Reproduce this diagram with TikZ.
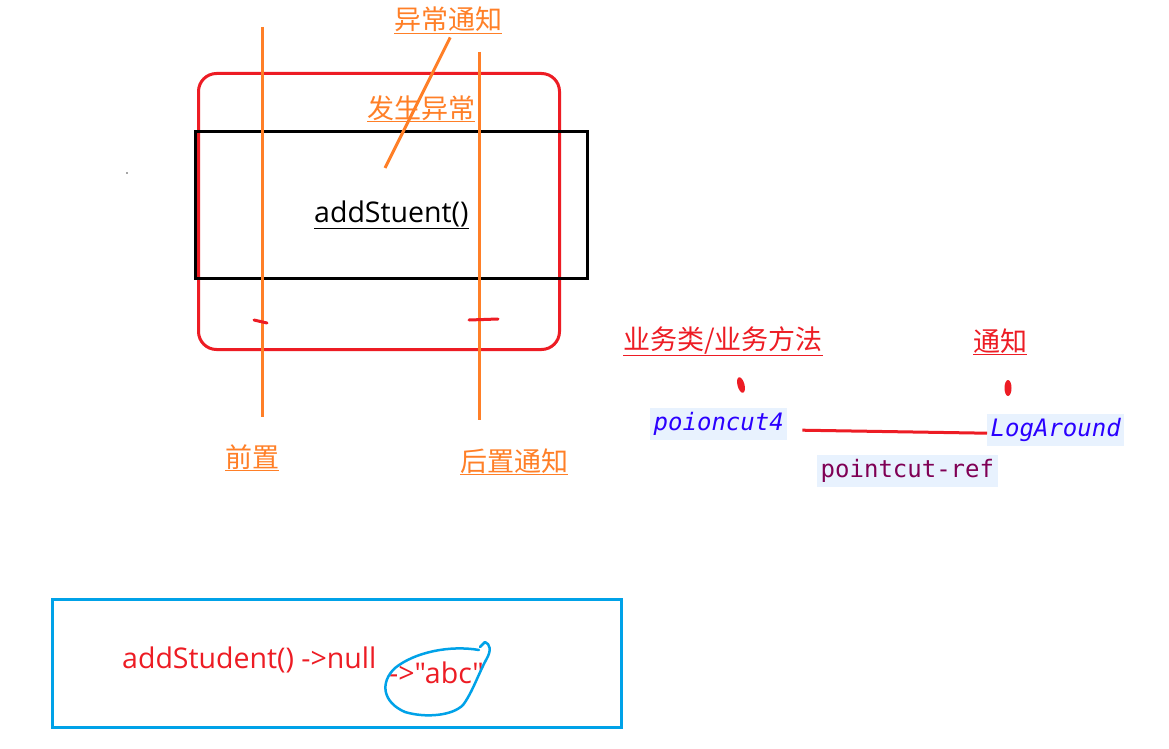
\documentclass[tikz,border=0pt]{standalone}
\usepackage{fontspec}
\newfontfamily\latinf{Open Sans}
\setmonofont{DejaVu Sans Mono}
\newfontfamily\cjk{Noto Sans CJK SC}
\definecolor{pOrange}{RGB}{255,127,39}
\definecolor{pRed}{RGB}{237,28,36}
\definecolor{pBlue}{RGB}{0,162,232}
\definecolor{codebg}{RGB}{232,242,254}
\definecolor{codeblue}{RGB}{42,0,255}
\definecolor{codepurple}{RGB}{127,0,85}
\begin{document}
\begin{tikzpicture}[x=1pt,y=-1pt,
  cnlabel/.style={font=\cjk\fontsize{27}{31}\selectfont, inner sep=0pt, anchor=base west},
  olabel/.style={cnlabel, text=pOrange},
  rlabel/.style={cnlabel, text=pRed},
  code/.style={fill=codebg, inner xsep=3.5pt, inner ysep=0pt, minimum height=32pt, anchor=north west,
    font=\ttfamily\fontsize{24}{28}\selectfont},
  codeit/.style={code, text=codeblue, font=\ttfamily\itshape\fontsize{24}{28}\selectfont},
  orangeline/.style={draw=pOrange, line width=3pt},
  redstroke/.style={draw=pRed, line width=3pt, line cap=round},
  latin/.style={font=\latinf\fontsize{28.5}{32}\selectfont, inner sep=0pt, anchor=base west}
]
\useasboundingbox (0,0) rectangle (1169,749);
\fill[white] (0,0) rectangle (1169,749);

% method boxes
\node[draw=pRed, line width=3pt, rounded corners=18pt, minimum width=361pt, minimum height=276pt,
  anchor=north west, inner sep=0pt] (aspect) at (197,72) {};
\node[draw=black, line width=3pt, minimum width=392pt, minimum height=147pt,
  anchor=north west, inner sep=0pt] (method) at (194,130) {};
\node[latin, text=black] (mname) at (314,222) {\underline{addStuent()}};

% orange lines
\draw[orangeline] (262,27) -- (262,417);
\draw[orangeline] (479,52) -- (479,420);

% labels
\node[olabel] (exc) at (394,30) {\underline{异常通知}};
\node[olabel] (occ) at (367,118) {\underline{发生异常}};
\node[olabel] (pre) at (225,467) {\underline{前置}};
\node[olabel] (post) at (460,471) {\underline{后置通知}};
\coordinate (excend) at (385,168);
\draw[orangeline] ([xshift=2pt,yshift=-3pt]exc.south) -- (excend);

% red ticks
\draw[redstroke] (254,320) -- (267,323);
\draw[redstroke] (469,320) -- (498,319);

% tiny dot
\fill[black!70] (127,173) circle (0.8pt);

% right part
\node[rlabel] (biz) at (623,349) {\underline{业务类/业务方法}};
\node[rlabel] (adv) at (973,351) {\underline{通知}};
\fill[pRed, rotate around={15:(741,385)}] (741,385) ellipse (3.5pt and 8pt);
\fill[pRed] (1008,388) ellipse (3.5pt and 8pt);

\node[codeit] (poi) at (650,408) {poioncut4};
\node[codeit] (log) at (987,414) {LogAround};
\node[code, text=codepurple] (ref) at (817,455) {pointcut-ref};
\draw[draw=pRed, line width=3pt] ([shift={(15pt,-6pt)}]poi.east) -- ([yshift=-3pt]log.west);

% bottom box
\node[draw=pBlue, line width=3pt, minimum width=569pt, minimum height=128pt,
  anchor=north west, inner sep=0pt] (ret) at (51,598) {};
\node[latin, text=pRed] (null) at (122,668) {addStudent() ->null};
\node[latin, text=pRed] (abc) at (389,683) {->"abc"};
\draw[draw=pBlue, line width=2.5pt, line join=round, line cap=round]
  (479,650) .. controls (450,645) and (415,652) .. (395,668)
  .. controls (380,682) and (382,702) .. (405,712)
  .. controls (425,718) and (452,716) .. (463,705)
  .. controls (472,693) and (478,675) .. (486,660)
  .. controls (492,650) and (490,644) .. (485,642)
  -- (480,647);
\end{tikzpicture}
\end{document}
